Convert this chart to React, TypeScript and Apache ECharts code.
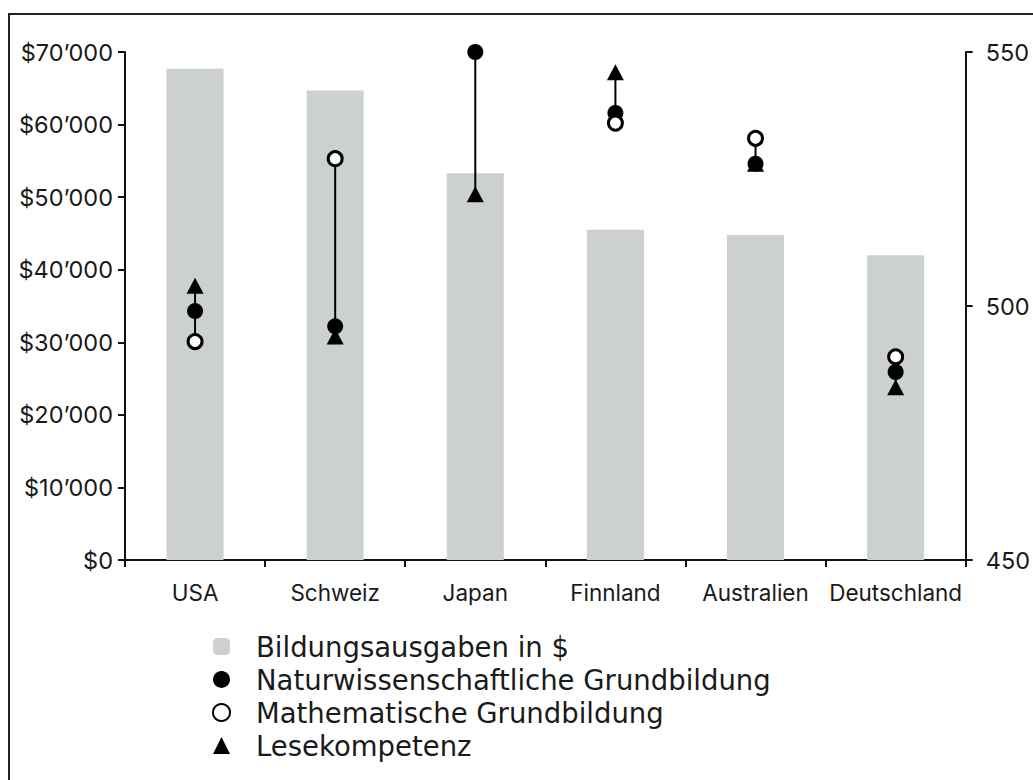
import React, { useEffect, useRef } from "react";
import * as echarts from "echarts";

const categories = ["USA", "Schweiz", "Japan", "Finnland", "Australien", "Deutschland"];
const spending = [67700, 64700, 53300, 45500, 44800, 42000];
const science = [499, 496, 550, 538, 528, 487];
const maths: (number | null)[] = [493, 529, null, 536, 533, 490];
const reading = [504, 494, 522, 546, 528, 484];

const leftTicks = { min: 0, max: 70000, interval: 10000 };
const rightTicks = { min: 450, max: 550, interval: 50 };

const FONT = "Inter";
const LEGEND_FONT = "DejaVu Sans";
const TEXT = "#1a1a1a";

export default function App() {
  const ref = useRef<HTMLDivElement>(null);
  useEffect(() => {
    if (!ref.current) return;
    const chart = echarts.init(ref.current, null, { renderer: "svg" });
    const ranges = categories.map((_, i) => {
      const vals = [science[i], maths[i], reading[i]].filter((v) => v != null) as number[];
      return [i, Math.min(...vals), Math.max(...vals)];
    });
    chart.setOption({
      animation: false,
      backgroundColor: "#ffffff",
      textStyle: { fontFamily: FONT, color: TEXT },
      graphic: [
        {
          type: "rect",
          shape: { x: 9, y: 14, width: 1100, height: 900 },
          style: { fill: "none", stroke: "#222", lineWidth: 2 },
          silent: true,
        },
      ],
      grid: { left: 125, right: 61, top: 52, bottom: 220, containLabel: false },
      legend: {
        orient: "vertical",
        left: 212,
        top: 630,
        padding: 0,
        itemWidth: 17,
        itemHeight: 17,
        itemGap: 0,
        data: [
          "Bildungsausgaben in $",
          "Naturwissenschaftliche Grundbildung",
          "Mathematische Grundbildung",
          "Lesekompetenz",
        ],
        textStyle: { fontFamily: LEGEND_FONT, fontSize: 27.5, color: TEXT, lineHeight: 33, padding: [0, 0, 0, 21] },
      },
      xAxis: {
        type: "category",
        data: categories,
        axisLine: { show: true, lineStyle: { color: "#111", width: 2 } },
        axisTick: { show: true, length: 7, lineStyle: { color: "#111", width: 2 } },
        axisLabel: { fontFamily: FONT, fontSize: 22.5, color: TEXT, margin: 21, interval: 0 },
      },
      yAxis: [
        {
          type: "value",
          min: leftTicks.min,
          max: leftTicks.max,
          interval: leftTicks.interval,
          axisLine: { show: true, lineStyle: { color: "#111", width: 2 } },
          axisTick: { show: true, length: 7, lineStyle: { color: "#111", width: 2 } },
          splitLine: { show: false },
          axisLabel: {
            fontFamily: FONT,
            fontSize: 23.5,
            color: TEXT,
            margin: 12,
            formatter: (v: number) => (v === 0 ? "$0" : `$${v / 1000}’000`),
          },
        },
        {
          type: "value",
          position: "right",
          min: rightTicks.min,
          max: rightTicks.max,
          interval: rightTicks.interval,
          axisLine: { show: true, lineStyle: { color: "#111", width: 2 } },
          axisTick: { show: true, length: 7, lineStyle: { color: "#111", width: 2 } },
          splitLine: { show: false },
          axisLabel: { fontFamily: FONT, fontSize: 23.5, color: TEXT, margin: 20 },
        },
      ],
      series: [
        {
          name: "Bildungsausgaben in $",
          type: "bar",
          yAxisIndex: 0,
          data: spending,
          barWidth: 57,
          itemStyle: { color: "#cdd0d0" },
        },
        {
          name: "connector",
          type: "custom",
          yAxisIndex: 1,
          clip: true,
          data: ranges,
          renderItem: (params: any, api: any) => {
            const p1 = api.coord([api.value(0), api.value(1)]);
            const p2 = api.coord([api.value(0), api.value(2)]);
            return {
              type: "line",
              shape: { x1: p1[0], y1: p1[1], x2: p2[0], y2: p2[1] },
              style: { stroke: "#000", lineWidth: 2 },
            };
          },
          z: 3,
        },
        {
          name: "Naturwissenschaftliche Grundbildung",
          type: "scatter",
          yAxisIndex: 1,
          data: science,
          symbol: "circle",
          symbolSize: 16,
          itemStyle: { color: "#000", opacity: 1 },
          z: 4,
        },
        {
          name: "Mathematische Grundbildung",
          type: "scatter",
          yAxisIndex: 1,
          data: maths,
          symbol: "circle",
          symbolSize: 14,
          itemStyle: { color: "#fff", borderColor: "#000", borderWidth: 3, opacity: 1 },
          z: 5,
        },
        {
          name: "Lesekompetenz",
          type: "scatter",
          yAxisIndex: 1,
          data: reading,
          symbol: "triangle",
          symbolSize: [17, 16],
          itemStyle: { color: "#000", opacity: 1 },
          z: 6,
        },
      ],
    });
    return () => chart.dispose();
  }, []);
  return (
    <div
      ref={ref}
      style={{ position: "absolute", left: 0, top: 0, width: 1033, height: 780, background: "#fff" }}
    />
  );
}
